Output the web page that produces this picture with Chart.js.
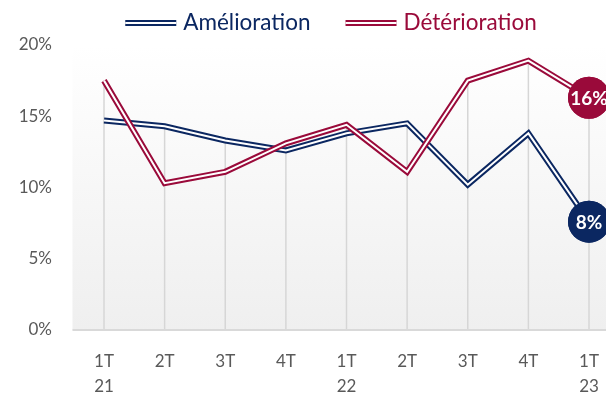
<!doctype html>
<html lang="fr">
<head>
<meta charset="utf-8">
<title>Amélioration / Détérioration</title>
<script src="https://cdn.jsdelivr.net/npm/chart.js@4.4.0/dist/chart.umd.min.js"></script>
<style>
  html, body { margin: 0; padding: 0; background: #fff; overflow: hidden; }
</style>
</head>
<body>
<canvas id="chart" width="606" height="393"></canvas>
<script>
// trimestres, en %
const trimestres = [['1T', '21'], '2T', '3T', '4T', ['1T', '22'], '2T', '3T', '4T', ['1T', '23']];
const amelioration = [14.7, 14.3, 13.3, 12.6, 13.8, 14.5, 10.2, 13.8, 7.6];
const deterioration = [17.5, 10.3, 11.1, 13.1, 14.4, 11.1, 17.5, 18.9, 16.3];

const BLEU = '#0b2761';
const ROUGE = '#9a0a3a';
const GRIS = '#595959';
const FONT = 'Lato';

// trait double (couleur / blanc / couleur)
function traitDouble(ctx, x1, x2, y, color) {
  ctx.fillStyle = color;
  ctx.fillRect(x1, y - 3, x2 - x1, 6);
  ctx.fillStyle = '#fff';
  ctx.fillRect(x1, y - 1, x2 - x1, 2);
}

// fond dégradé, lignes de projection et ligne de l'axe
const fondPlugin = {
  id: 'fond',
  beforeDatasetsDraw(chart) {
    const {ctx, chartArea, scales: {x, y}} = chart;
    const left = x.getPixelForValue(-0.52);
    const bottom = y.getPixelForValue(0);
    const grad = ctx.createLinearGradient(0, chartArea.top, 0, bottom);
    grad.addColorStop(0, '#ffffff');
    grad.addColorStop(1, '#efefef');
    ctx.save();
    ctx.fillStyle = grad;
    ctx.fillRect(left, chartArea.top, chart.width - left, bottom - chartArea.top);
    const m0 = chart.getDatasetMeta(0), m1 = chart.getDatasetMeta(1);
    ctx.strokeStyle = '#d6d6d6';
    ctx.lineWidth = 1.5;
    ctx.beginPath();
    m0.data.forEach((pt, i) => {
      const top = Math.min(pt.y, m1.data[i].y);
      ctx.moveTo(pt.x, top);
      ctx.lineTo(pt.x, bottom);
    });
    ctx.stroke();
    ctx.strokeStyle = '#d9d9d9';
    ctx.lineWidth = 2;
    ctx.beginPath();
    ctx.moveTo(left, bottom);
    ctx.lineTo(chart.width, bottom);
    ctx.stroke();
    ctx.restore();
  }
};

// trait blanc au centre de chaque courbe, puis pastille + valeur finale
const doublePlugin = {
  id: 'double',
  afterDatasetDraw(chart, args) {
    const {ctx} = chart;
    const pts = args.meta.data;
    ctx.save();
    ctx.strokeStyle = '#fff';
    ctx.lineWidth = 2;
    ctx.beginPath();
    pts.forEach((p, i) => i ? ctx.lineTo(p.x, p.y) : ctx.moveTo(p.x, p.y));
    ctx.stroke();
    const last = pts[pts.length - 1];
    last.draw(ctx);
    const ds = chart.data.datasets[args.index];
    ctx.fillStyle = '#fff';
    ctx.font = 'bold 19px ' + FONT;
    ctx.textAlign = 'center';
    ctx.textBaseline = 'middle';
    ctx.fillText(Math.round(ds.data[pts.length - 1]) + '%', last.x, last.y + 1);
    ctx.restore();
  }
};

// légende avec symbole en trait double
const legendePlugin = {
  id: 'legende',
  afterDraw(chart, args, opts) {
    const {ctx} = chart;
    const sym = 51, gap = 7, ecart = 35;
    ctx.save();
    ctx.font = opts.size + 'px ' + FONT;
    const items = chart.data.datasets.map(ds => ({
      text: ds.label, color: ds.borderColor, w: ctx.measureText(ds.label).width
    }));
    const total = items.reduce((s, it) => s + sym + gap + it.w, 0) + ecart * (items.length - 1);
    let x = opts.centre - total / 2;
    ctx.textBaseline = 'middle';
    ctx.textAlign = 'left';
    items.forEach(it => {
      traitDouble(ctx, x, x + sym, opts.y, it.color);
      ctx.fillStyle = it.color;
      ctx.fillText(it.text, x + sym + gap, opts.y);
      x += sym + gap + it.w + ecart;
    });
    ctx.restore();
  }
};

function serie(label, data, color, order) {
  return {
    label: label,
    data: data,
    borderColor: color,
    backgroundColor: color,
    borderWidth: 6,
    tension: 0,
    order: order,
    clip: false,
    pointRadius: data.map((v, i) => i === data.length - 1 ? 21 : 0),
    pointBackgroundColor: color,
    pointBorderWidth: 0,
    pointHoverRadius: 0
  };
}

new Chart(document.getElementById('chart'), {
  type: 'line',
  data: {
    labels: trimestres,
    datasets: [
      serie('Amélioration', amelioration, BLEU, 1),
      serie('Détérioration', deterioration, ROUGE, 0)
    ]
  },
  options: {
    responsive: false,
    animation: false,
    events: [],
    layout: { autoPadding: false, padding: { left: 0, right: 17, top: 45, bottom: 0 } },
    plugins: {
      tooltip: { enabled: false },
      legend: { display: false },
      legende: { centre: 331, y: 23, size: 22.5 }
    },
    scales: {
      x: {
        grid: { display: false },
        border: { display: false },
        ticks: {
          color: GRIS,
          padding: 11,
          maxRotation: 0,
          autoSkip: false,
          font: { family: FONT, size: 17, lineHeight: 1.47 }
        },
        afterFit(scale) {
          scale.height = 63;
          scale.paddingLeft = 0;
          scale.paddingRight = 0;
        }
      },
      y: {
        min: 0,
        max: 20,
        grid: { display: false, drawTicks: false },
        border: { display: false },
        ticks: {
          stepSize: 5,
          color: GRIS,
          padding: 52,
          font: { family: FONT, size: 17 },
          callback: v => v + '%'
        },
        afterFit(scale) {
          scale.width = 104;
          scale.paddingTop = 0;
          scale.paddingBottom = 0;
        }
      }
    }
  },
  plugins: [fondPlugin, doublePlugin, legendePlugin]
});
</script>
</body>
</html>
